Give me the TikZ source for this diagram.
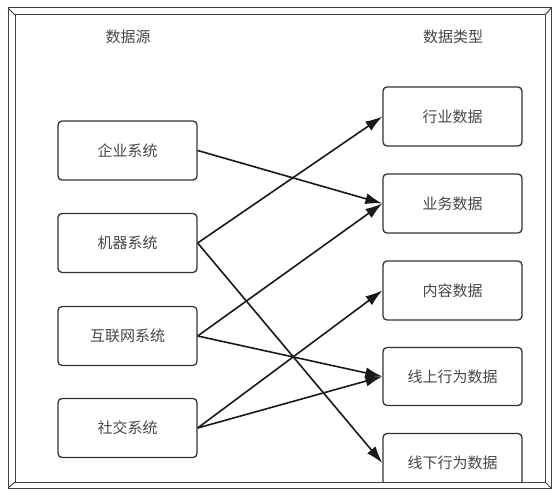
\documentclass[tikz,border=0pt]{standalone}
\usepackage{fontspec}
\setmainfont{Noto Sans CJK SC}
\usetikzlibrary{arrows.meta}
\begin{document}
\begin{tikzpicture}[x=1pt,y=-1pt,
 box/.style={draw=black!80, line width=1.3pt, rounded corners=4pt, minimum width=139pt, minimum height=59pt, font=\fontsize{15}{17}\selectfont, text=black!72, inner sep=0pt},
 conn/.style={draw=black!90, line width=1.6pt, -{Latex[length=17pt,width=11pt]}},
 hdr/.style={font=\fontsize{15}{17}\selectfont, text=black!72},
 frame/.style={draw=black!75, line width=1pt}]
\useasboundingbox (0,0) rectangle (560,497);
\fill[white] (0,0) rectangle (560,497);
% frame
\draw[frame] (8,8) rectangle (551,488);
\draw[frame] (15,15) rectangle (545,482);
\draw[frame] (8,8) -- (15,15);
\draw[frame] (551,8) -- (545,15);
\draw[frame] (8,488) -- (15,482);
\draw[frame] (551,488) -- (545,482);
% headers
\node[hdr] (h1) at (128,37) {数据源};
\node[hdr] (h2) at (453,37) {数据类型};
\begin{scope}
\clip (15,15) rectangle (545,482);
\node[box] (s1) at (127.5,150.5) {企业系统};
\node[box] (s2) at (127.5,243) {机器系统};
\node[box] (s3) at (127.5,336) {互联网系统};
\node[box] (s4) at (127.5,428) {社交系统};
\node[box] (t1) at (452.5,116.5) {行业数据};
\node[box] (t2) at (452.5,203.5) {业务数据};
\node[box] (t3) at (452.5,290.5) {内容数据};
\node[box, minimum height=58pt] (t4) at (452.5,376.5) {线上行为数据};
\node[box] (t5) at (452.5,463) {线下行为数据};
\end{scope}
\draw[conn] (s1.east) -- (t2.west);
\draw[conn] (s2.east) -- (t1.west);
\draw[conn] (s2.east) -- (t5.west);
\draw[conn] (s3.east) -- (t2.west);
\draw[conn] (s3.east) -- (t4.west);
\draw[conn] (s4.east) -- (t3.west);
\draw[conn] (s4.east) -- (t4.west);
\end{tikzpicture}
\end{document}
